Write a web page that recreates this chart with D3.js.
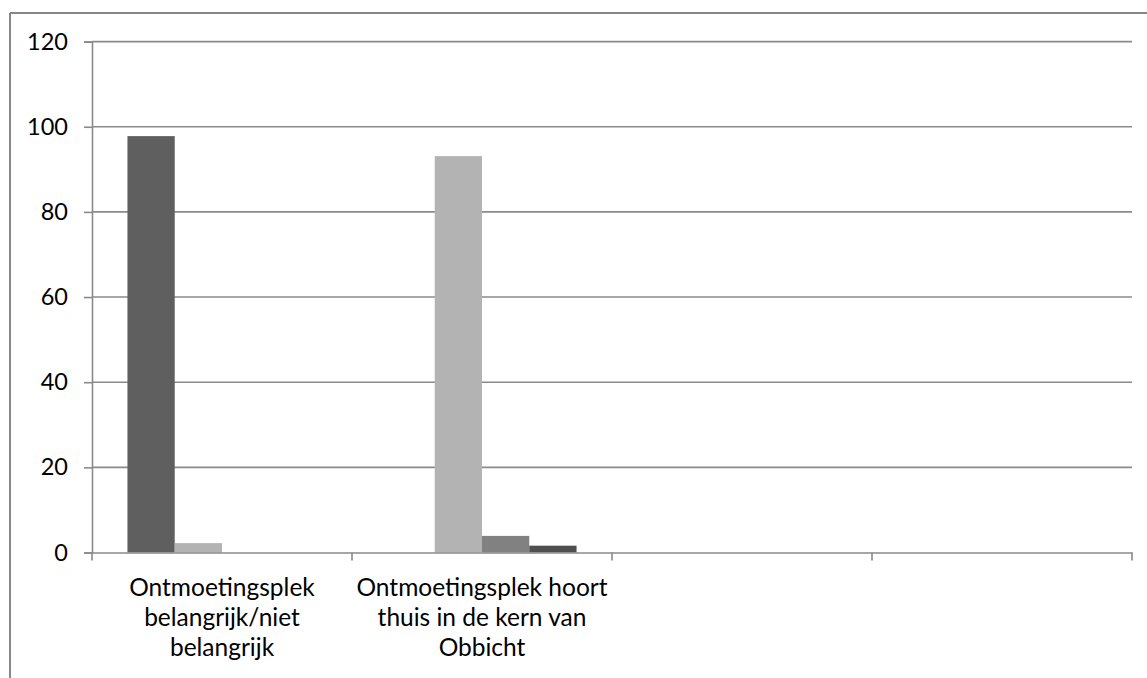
<!DOCTYPE html>
<html>
<head>
<meta charset="utf-8">
<script src="https://cdn.jsdelivr.net/npm/d3@7"></script>
<style>
  html, body { margin: 0; padding: 0; background: #fff; }
  svg { display: block; }
  text { font-family: Lato, "Open Sans", sans-serif; fill: #000; }
</style>
</head>
<body>
<svg id="chart" width="1147" height="678"></svg>
<script>
// ---- data ----
const categories = ["c1", "c2", "c3", "c4"];
const categoryLabels = [
  ["Ontmoetingsplek", "belangrijk/niet", "belangrijk"],
  ["Ontmoetingsplek hoort", "thuis in de kern van", "Obbicht"],
  [],
  []
];
const seriesNames = ["s1", "s2", "s3", "s4"];
const series1 = [97.8, null, null, null];
const series2 = [2.2, 93.1, null, null];
const series3 = [null, 3.9, null, null];
const series4 = [null, 1.6, null, null];
const seriesColors = ["#5f5f5f", "#b3b3b3", "#818181", "#4f4f4f"];
const yTicks = [0, 20, 40, 60, 80, 100, 120];

const allSeries = [series1, series2, series3, series4];

// ---- layout ----
const svg = d3.select("#chart");
const plot = { left: 92, right: 1132, top: 41.6, bottom: 552.5 };
const gridColor = "#8a8a8a";

// outer chart border (top and left edges; right/bottom fall outside the window)
const border = svg.append("g").attr("stroke", "#868686").attr("stroke-width", 2);
border.append("line").attr("x1", 10).attr("y1", 13).attr("x2", 1147).attr("y2", 13);
border.append("line").attr("x1", 10).attr("y1", 13).attr("x2", 10).attr("y2", 678);

const x = d3.scaleBand().domain(categories).range([plot.left, plot.right]).paddingInner(0).paddingOuter(0);
const xs = d3.scaleBand().domain(seriesNames).range([0, x.bandwidth()]).paddingInner(0).paddingOuter(0.75);
const y = d3.scaleLinear().domain([0, 120]).range([plot.bottom, plot.top]);

// gridlines
svg.append("g").selectAll("line").data(yTicks.filter(t => t > 0)).join("line")
  .attr("x1", plot.left).attr("x2", plot.right)
  .attr("y1", d => y(d)).attr("y2", d => y(d))
  .attr("stroke", gridColor).attr("stroke-width", 1.6);

// bars
const barData = [];
allSeries.forEach((vals, si) => {
  vals.forEach((v, ci) => {
    if (v != null) barData.push({ c: categories[ci], s: seriesNames[si], v, si });
  });
});
svg.append("g").selectAll("rect").data(barData).join("rect")
  .attr("x", d => x(d.c) + xs(d.s))
  .attr("width", xs.bandwidth())
  .attr("y", d => y(d.v))
  .attr("height", d => y(0) - y(d.v))
  .attr("fill", d => seriesColors[d.si]);

// y axis
const yAxis = d3.axisLeft(y).tickValues(yTicks).tickSize(8).tickPadding(16).tickFormat(d3.format("d"));
const gy = svg.append("g").attr("transform", `translate(${plot.left},0)`).call(yAxis);
gy.select(".domain").attr("stroke", gridColor).attr("stroke-width", 1.6);
gy.selectAll(".tick line").attr("stroke", gridColor).attr("stroke-width", 1.6);
gy.selectAll(".tick text").style("font-size", "23.5px").attr("fill", "#000");

// x axis
const xAxis = d3.axisBottom(x).tickSize(0).tickFormat("");
const gx = svg.append("g").attr("transform", `translate(0,${plot.bottom})`).call(xAxis);
gx.select(".domain").attr("stroke", gridColor).attr("stroke-width", 1.6);
gx.selectAll(".tick").remove();
// category boundary ticks
const boundaries = categories.map(c => x(c)).concat([x(categories[categories.length - 1]) + x.bandwidth()]);
gx.append("g").selectAll("line").data(boundaries).join("line")
  .attr("x1", d => d).attr("x2", d => d)
  .attr("y1", 0).attr("y2", 8)
  .attr("stroke", gridColor).attr("stroke-width", 1.6);

// category labels
const labG = svg.append("g");
categories.forEach((c, i) => {
  const cx = x(c) + x.bandwidth() / 2;
  const t = labG.append("text").attr("text-anchor", "middle").style("font-size", "24.5px");
  categoryLabels[i].forEach((line, li) => {
    t.append("tspan").attr("x", cx).attr("y", plot.bottom + 43.5 + li * 30).text(line);
  });
});
</script>
</body>
</html>
